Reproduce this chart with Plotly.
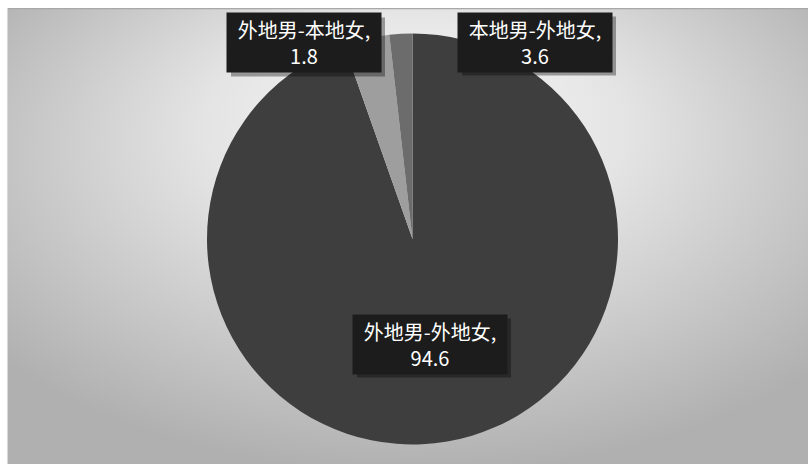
import base64
import plotly.graph_objects as go

# ---- data ----
categories = ["外地男-外地女", "本地男-外地女", "外地男-本地女"]
values = [94.6, 3.6, 1.8]

# ---- styling / layout (not data) ----
W, H = 808, 464
slice_colors = ["#3e3e3e", "#9e9e9e", "#6c6c6c"]
# label box centres in pixels (x, y from top), same order as categories
label_centres = [(430, 344), (535, 42), (304, 43)]
box_w, box_h = 150, 55
pad = 2

svg = f"""<svg xmlns='http://www.w3.org/2000/svg' width='801' height='456' viewBox='0 0 801 456' preserveAspectRatio='none'>
<defs><radialGradient id='g' cx='0.51' cy='0.36' r='0.66' fx='0.51' fy='0.2'>
<stop offset='0' stop-color='#f8f8f8'/><stop offset='0.4' stop-color='#e4e4e4'/>
<stop offset='1' stop-color='#b0b0b0'/></radialGradient></defs>
<rect x='0' y='0' width='801' height='456' fill='url(#g)'/>
<line x1='0' y1='0.5' x2='801' y2='0.5' stroke='#a8a8a8' stroke-width='1.5'/>
<line x1='0.5' y1='0' x2='0.5' y2='456' stroke='#d8d8d8' stroke-width='1'/>
</svg>"""
bg_uri = "data:image/svg+xml;base64," + base64.b64encode(svg.encode("utf-8")).decode("ascii")

fig = go.Figure()
fig.add_trace(go.Pie(
    labels=categories,
    values=values,
    sort=False,
    direction="clockwise",
    rotation=0,
    marker=dict(colors=slice_colors, line=dict(width=0)),
    textinfo="none",
    hoverinfo="label+value",
    showlegend=False,
    domain=dict(x=[207 / W, 618 / W], y=[1 - 445 / H, 1 - 33 / H]),
))

font = dict(family="Noto Sans CJK SC, Noto Sans, sans-serif", size=20, color="#ffffff")
annotations, shapes = [], []
half_w, half_h = box_w / 2 + pad, box_h / 2 + pad
for cat, val, (cx, cy) in zip(categories, values, label_centres):
    shapes.append(dict(
        type="rect", xref="paper", yref="paper", layer="above",
        x0=(cx - half_w + 4) / W, x1=(cx + half_w + 4) / W,
        y0=1 - (cy + half_h + 4) / H, y1=1 - (cy - half_h + 4) / H,
        fillcolor="rgba(0,0,0,0.35)", line=dict(width=0),
    ))
    annotations.append(dict(
        x=cx / W, y=1 - cy / H, xref="paper", yref="paper",
        text=f"{cat},<br>{val}", showarrow=False, width=box_w, height=box_h,
        borderpad=pad, bgcolor="#1c1c1c", xanchor="center", yanchor="middle",
        align="center", font=font,
    ))

fig.update_layout(
    width=W, height=H,
    margin=dict(l=0, r=0, t=0, b=0),
    paper_bgcolor="#ffffff",
    plot_bgcolor="#ffffff",
    images=[dict(
        source=bg_uri, xref="paper", yref="paper",
        x=7 / W, y=1 - 8 / H, sizex=(W - 7) / W, sizey=(H - 8) / H,
        xanchor="left", yanchor="top", sizing="stretch", layer="below",
    )],
    shapes=shapes,
    annotations=annotations,
)

fig.write_html(
    "out.html",
    config={"displayModeBar": False},
    post_script="document.body.style.margin='0';document.body.style.overflow='hidden';",
)
